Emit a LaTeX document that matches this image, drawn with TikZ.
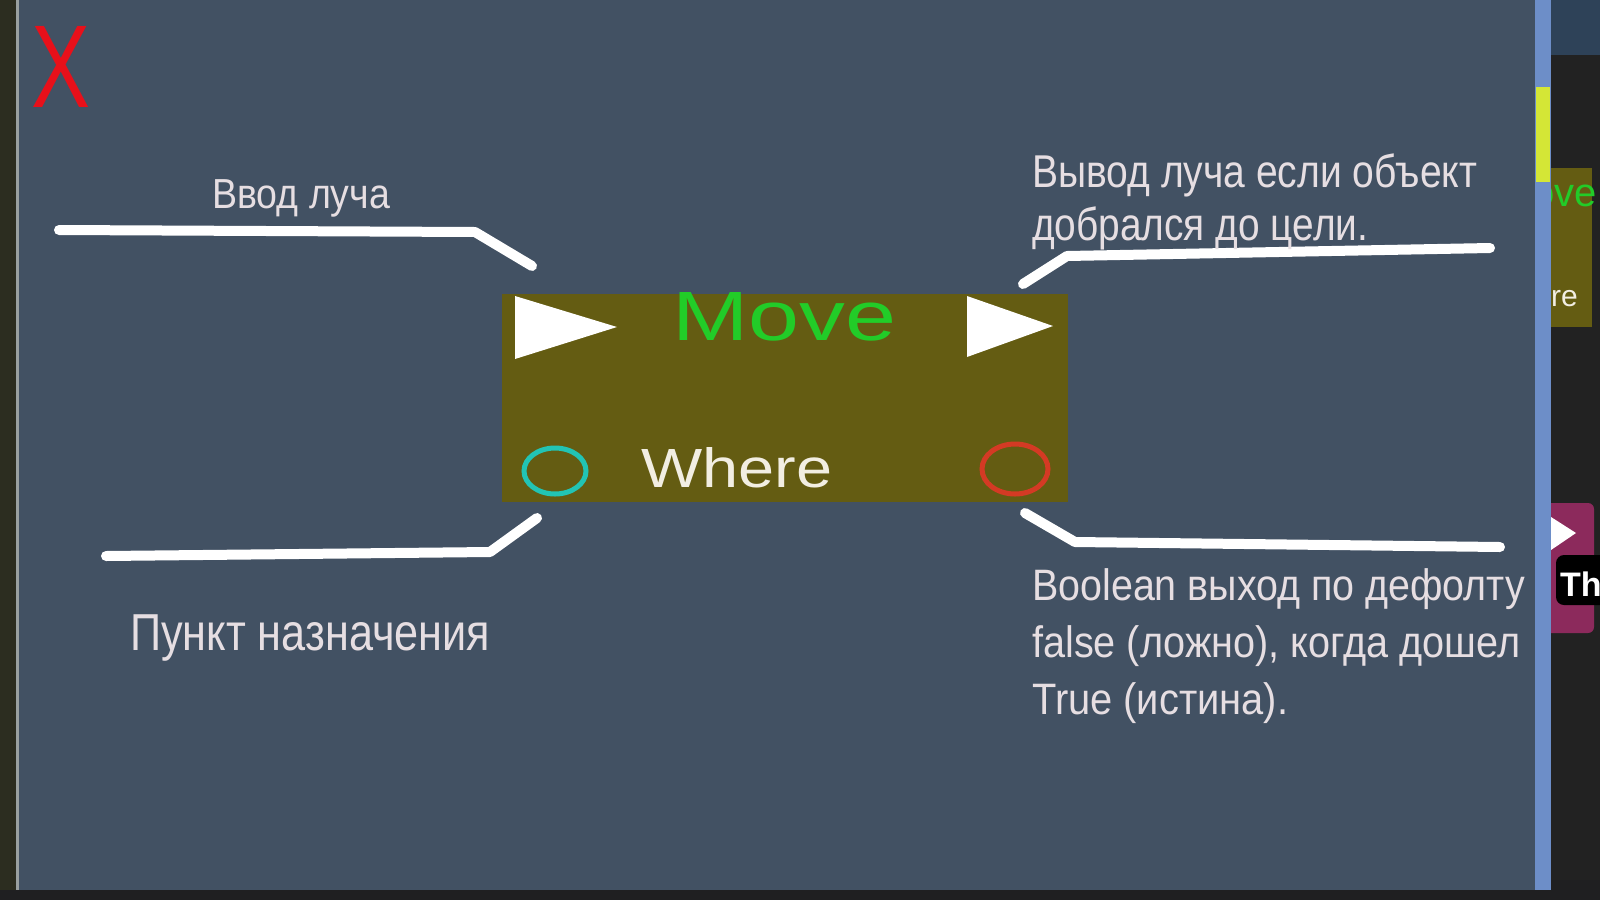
\documentclass[tikz,border=0pt]{standalone}
\usepackage{graphicx}
\usepackage{fontspec}
\setmainfont{Liberation Sans}
\definecolor{outerdark}{HTML}{1F1F21}
\definecolor{leftstrip}{HTML}{2C2D20}
\definecolor{edgeline}{HTML}{9AA0A0}
\definecolor{canvasbg}{HTML}{425163}
\definecolor{barblue}{HTML}{6D8EC8}
\definecolor{baryellow}{HTML}{D4E636}
\definecolor{topblue}{HTML}{2E4258}
\definecolor{panel}{HTML}{222222}
\definecolor{nodeolive}{HTML}{645C12}
\definecolor{movegreen}{HTML}{22CC28}
\definecolor{wherewhite}{HTML}{F2EEE2}
\definecolor{labelgray}{HTML}{E6DEE2}
\definecolor{pincyan}{HTML}{22C4B4}
\definecolor{pinred}{HTML}{D43A24}
\definecolor{closered}{HTML}{E8101A}
\definecolor{magentabox}{HTML}{8C2A5C}
\tikzset{
  leader/.style={draw=white, line width=10pt, line cap=round, line join=round},
  lbl/.style={inner sep=0pt, anchor=base west, text=labelgray},
  pin/.style={line width=5pt},
}
\begin{document}
\begin{tikzpicture}[x=1pt,y=-1pt]
\useasboundingbox (0,0) rectangle (1600,900);
% backgrounds
\fill[outerdark] (0,0) rectangle (1600,900);
\fill[leftstrip] (0,0) rectangle (16,890);
\fill[edgeline] (16,0) rectangle (19,890);
\fill[canvasbg] (19,0) rectangle (1535,890);
\fill[barblue] (1535,0) rectangle (1551,890);
\fill[baryellow] (1536,87) rectangle (1550,182);
\fill[topblue] (1551,0) rectangle (1600,55);
\fill[panel] (1551,55) rectangle (1600,880);
% partial neighbour nodes on the right
\begin{scope}
\clip (1551,0) rectangle (1600,900);
\fill[nodeolive] (1551,168) rectangle (1592,327);
\node[inner sep=0pt, anchor=base east, text=movegreen, font=\fontsize{40}{40}\selectfont] (mv2) at (1597,206) {Move};
\node[inner sep=0pt, anchor=base east, text=wherewhite, font=\fontsize{30}{30}\selectfont] (wh2) at (1578,306) {Where};
\fill[magentabox, rounded corners=6pt] (1540,503) rectangle (1594,633);
\fill[white] (1551,517) -- (1576,533) -- (1551,550) -- cycle;
\fill[black, rounded corners=8pt] (1556,555) rectangle (1620,605);
\node[inner sep=0pt, anchor=base west, text=white, font=\bfseries\fontsize{34}{34}\selectfont] (th) at (1560,596) {Th};
\end{scope}
% close mark
\node[inner sep=0pt, anchor=north west, text=closered] (close) at (31,26) {\resizebox{59pt}{81pt}{X}};
% main node
\fill[nodeolive] (502,294) rectangle (1068,502);
\coordinate (box) at (785,398);
\fill[white] (515,296) -- (617,327) -- (515,359) -- cycle;
\fill[white] (967,296) -- (1053,326) -- (967,357) -- cycle;
\node[inner sep=0pt, anchor=base west, text=movegreen, font=\fontsize{66}{66}\selectfont] (move) at (672,340) {\resizebox{224pt}{48pt}{Move}};
\node[inner sep=0pt, anchor=base west, text=wherewhite, font=\fontsize{56}{56}\selectfont] (where) at (641,487) {\resizebox{191pt}{40pt}{Where}};
\draw[pin, pincyan] (555,471) ellipse [x radius=31, y radius=23];
\draw[pin, pinred] (1015,469) ellipse [x radius=33, y radius=25];
% leaders
\coordinate (inA) at (59,230);
\coordinate (inB) at (475,232);
\coordinate (inC) at (532,266);
\draw[leader] (inA) -- (inB) -- (inC);
\coordinate (dA) at (106,556);
\coordinate (dB) at (490,552);
\coordinate (dC) at (537,518);
\draw[leader] (dA) -- (dB) -- (dC);
\coordinate (oA) at (1023,284);
\coordinate (oB) at (1067,256);
\coordinate (oC) at (1490,248);
\draw[leader] (oA) -- (oB) -- (oC);
\coordinate (bA) at (1025,513);
\coordinate (bB) at (1075,542);
\coordinate (bC) at (1500,547);
\draw[leader] (bA) -- (bB) -- (bC);
% labels
\node[lbl, font=\fontsize{42}{42}\selectfont] (lin) at (212,208) {\resizebox{178pt}{\height}{Ввод луча}};
\node[lbl, font=\fontsize{52}{52}\selectfont] (ldest) at (130,650) {\resizebox{360pt}{\height}{Пункт назначения}};
\node[lbl, font=\fontsize{46}{46}\selectfont] (lout1) at (1032,187) {\resizebox{445pt}{\height}{Вывод луча если объект}};
\node[lbl, font=\fontsize{46}{46}\selectfont] (lout2) at (1032,240) {\resizebox{336pt}{\height}{добрался до цели.}};
\node[lbl, font=\fontsize{44}{44}\selectfont] (lb1) at (1032,600) {\resizebox{493pt}{\height}{Boolean выход по дефолту}};
\node[lbl, font=\fontsize{44}{44}\selectfont] (lb2) at (1032,657) {\resizebox{488pt}{\height}{false (ложно), когда дошел}};
\node[lbl, font=\fontsize{44}{44}\selectfont] (lb3) at (1032,714) {\resizebox{256pt}{\height}{True (истина).}};
\end{tikzpicture}
\end{document}
